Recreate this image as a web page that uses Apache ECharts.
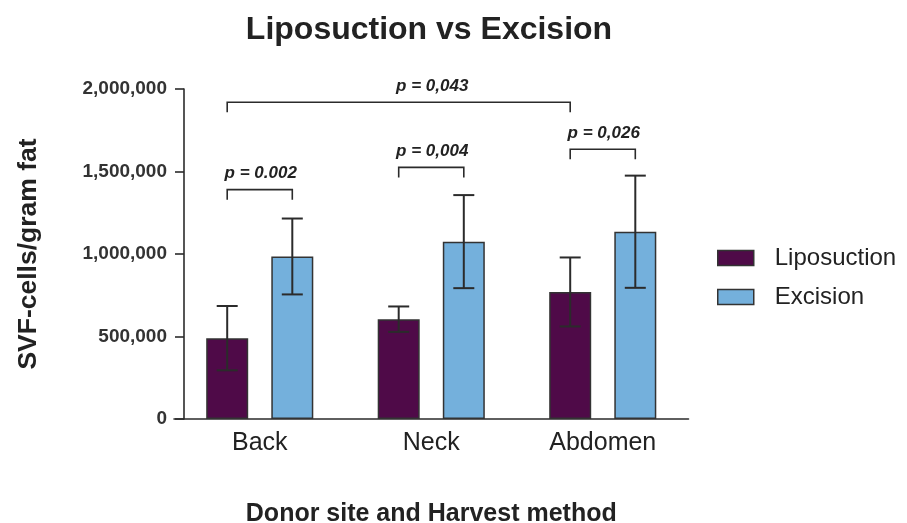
<!DOCTYPE html>
<html><head><meta charset="utf-8">
<script src="https://cdn.jsdelivr.net/npm/echarts@6/dist/echarts.min.js"></script>
<style>html,body{margin:0;padding:0;background:#fff}#c{width:907px;height:523px}</style>
</head><body><div id="c"></div>
<script>
// ---- data ----
const categories = ['Back', 'Neck', 'Abdomen'];
const seriesNames = ['Liposuction', 'Excision'];
const liposuction = [490000, 605000, 770000];
const liposuctionSD = [195000, 77000, 209000];
const excision = [985000, 1075000, 1135000];
const excisionSD = [230000, 282000, 340000];
const yTicks = [0, 500000, 1000000, 1500000, 2000000];
// significance brackets: from [category, series], to [category, series], level, label category
const bracketFrom = [[0, 0], [1, 0], [2, 0], [0, 0]];
const bracketTo = [[0, 1], [1, 1], [2, 1], [2, 0]];
const bracketLevel = [1390000, 1525000, 1635000, 1920000];
const bracketLabelAt = [0, 1, 2, 1];
const pValues = ['p = 0.002', 'p = 0,004', 'p = 0,026', 'p = 0,043'];

// ---- style ----
const FONT = "'Liberation Sans', Arial, Helvetica, sans-serif";
const BAR_W = 42, BAR_GAP = 0.55;
const OFFSET = (BAR_W + BAR_W * BAR_GAP) / 2;
const CAP = 21;
const LINE = '#2b2b2b';

function errorSeries(name, means, sds, side) {
  return {
    type: 'custom', name: name + ' SD', silent: true, z: 5, clip: false,
    data: means.map((m, i) => [i, m, sds[i]]),
    encode: { x: 0, y: 1 },
    renderItem(params, api) {
      const i = api.value(0), m = api.value(1), s = api.value(2);
      const top = api.coord([i, m + s]);
      const bot = api.coord([i, m - s]);
      const x = top[0] + (side ? OFFSET : -OFFSET);
      const st = { stroke: LINE, lineWidth: 2 };
      return { type: 'group', children: [
        { type: 'line', shape: { x1: x, y1: top[1], x2: x, y2: bot[1] }, style: st },
        { type: 'line', shape: { x1: x - CAP / 2, y1: top[1], x2: x + CAP / 2, y2: top[1] }, style: st },
        { type: 'line', shape: { x1: x - CAP / 2, y1: bot[1], x2: x + CAP / 2, y2: bot[1] }, style: st }
      ]};
    }
  };
}

const bracketSeries = {
  type: 'custom', name: 'brackets', silent: true, z: 6, clip: false,
  data: bracketLevel.map((lv, k) => [bracketLabelAt[k], lv]),
  encode: { x: 0, y: 1 },
  renderItem(params, api) {
    const k = params.dataIndex;
    const lv = api.value(1);
    const a = api.coord([bracketFrom[k][0], lv]);
    const b = api.coord([bracketTo[k][0], lv]);
    const t = api.coord([bracketLabelAt[k], lv]);
    const x1 = a[0] + (bracketFrom[k][1] ? OFFSET : -OFFSET);
    const x2 = b[0] + (bracketTo[k][1] ? OFFSET : -OFFSET);
    const y = a[1];
    return { type: 'group', children: [
      { type: 'polyline', shape: { points: [[x1, y + 10], [x1, y], [x2, y], [x2, y + 10]] },
        style: { stroke: LINE, lineWidth: 1.6, fill: null } },
      { type: 'text', x: t[0] + 1, y: y - 16,
        style: { text: pValues[k], font: 'italic bold 17px ' + FONT, fill: '#222',
                 align: 'center', verticalAlign: 'middle' } }
    ]};
  }
};

const chart = echarts.init(document.getElementById('c'), null, { renderer: 'canvas' });
chart.setOption({
  animation: false,
  backgroundColor: '#fff',
  title: {
    text: 'Liposuction vs Excision', left: 424, top: 9, textAlign: 'center',
    textStyle: { fontFamily: FONT, fontWeight: 'bold', fontSize: 32, color: '#222' }
  },
  legend: {
    data: seriesNames, orient: 'vertical', left: 712, top: 241,
    itemWidth: 36, itemHeight: 15, itemGap: 15, icon: 'rect',
    itemStyle: { borderColor: '#333', borderWidth: 1.5 },
    textStyle: { fontFamily: FONT, fontSize: 24, color: '#222', lineHeight: 24, padding: [0, 0, 0, 16] }
  },
  grid: { left: 174, right: 218.5, top: 89, bottom: 104, containLabel: false, outerBoundsMode: 'none' },
  xAxis: {
    type: 'category', data: categories,
    name: 'Donor site and Harvest method', nameLocation: 'middle', nameGap: 83,
    nameTextStyle: { fontFamily: FONT, fontWeight: 'bold', fontSize: 25, color: '#222' },
    axisLine: { lineStyle: { color: LINE, width: 1.6 } },
    axisTick: { show: false },
    axisLabel: { fontFamily: FONT, fontSize: 25, color: '#222', margin: 12 }
  },
  yAxis: {
    type: 'value', min: yTicks[0], max: yTicks[yTicks.length - 1], interval: yTicks[1] - yTicks[0],
    offset: -10,
    name: 'SVF-cells/gram fat', nameLocation: 'middle', nameGap: 142,
    nameTextStyle: { fontFamily: FONT, fontWeight: 'bold', fontSize: 26.5, color: '#222' },
    axisLine: { show: true, lineStyle: { color: LINE, width: 1.6 } },
    axisTick: { show: true, length: 9, lineStyle: { color: LINE, width: 1.6 } },
    splitLine: { show: false },
    axisLabel: {
      fontFamily: FONT, fontWeight: 'bold', fontSize: 19, color: '#333', margin: 17,
      formatter: v => v.toLocaleString('en-US')
    }
  },
  series: [
    { type: 'bar', name: seriesNames[0], data: liposuction, barWidth: BAR_W, barGap: (BAR_GAP * 100) + '%',
      itemStyle: { color: '#4f0a48', borderColor: '#333', borderWidth: 1.5 } },
    { type: 'bar', name: seriesNames[1], data: excision, barWidth: BAR_W, barGap: (BAR_GAP * 100) + '%',
      itemStyle: { color: '#74b0dc', borderColor: '#333', borderWidth: 1.5 } },
    errorSeries(seriesNames[0], liposuction, liposuctionSD, 0),
    errorSeries(seriesNames[1], excision, excisionSD, 1),
    bracketSeries
  ]
});
</script></body></html>
